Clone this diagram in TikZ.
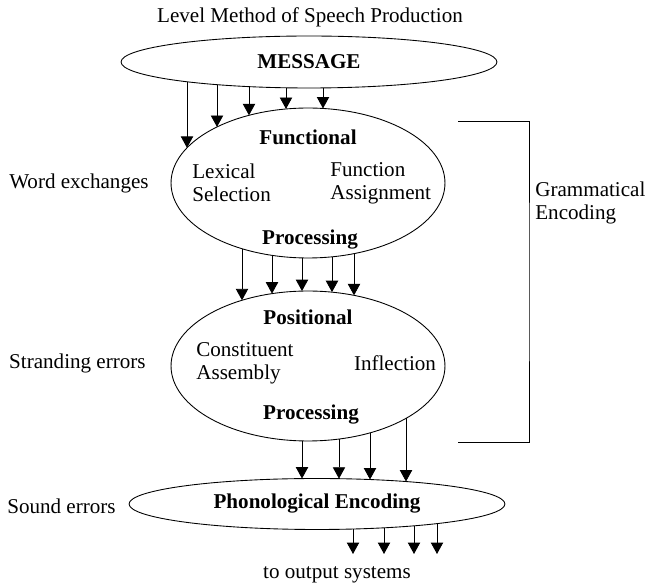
\documentclass[tikz,border=0pt]{standalone}
\usepackage{fontspec}
\setmainfont{Liberation Serif}
\usepackage{tikz}
\usetikzlibrary{positioning, calc, arrows.meta, shapes}
\tikzset{level/.style={ellipse, draw, line width=0.5pt, inner sep=0pt}}
\tikzset{flow/.style={-{Triangle[width=7pt,length=6.5pt]}, line width=0.5pt}}
\tikzset{every node/.append style={font=\fontsize{12}{13}\selectfont, inner sep=0pt}}

\begin{document}
\begin{tikzpicture}[x=0.02cm, y=-0.02cm]

      \useasboundingbox (0,0) rectangle (647,587);

      % LEVELS

      \node[level, minimum width=7.52cm, minimum height=1.04cm] (msg) at (309,62) {\textbf{MESSAGE}};
      \node[level, minimum width=5.48cm, minimum height=3cm] (fun) at (308,183) {};
      \node[level, minimum width=5.48cm, minimum height=3cm] (pos) at (308,366) {};
      \node[level, minimum width=7.52cm, minimum height=1.02cm] (pho) at (317,504) {\textbf{Phonological Encoding}};

      % INNER LABELS

      \node (funTop) at (308,137) {\textbf{Functional}};
      \node[anchor=west, align=left] (lexLabel) at (192,183) {Lexical\\Selection};
      \node[anchor=west, align=left] (asgLabel) at (330,183) {Function\\Assignment};
      \node (funBot) at (310,240) {\textbf{Processing}};

      \node (posTop) at (308,317) {\textbf{Positional}};
      \node[anchor=west, align=left] (conLabel) at (196,363) {Constituent\\Assembly};
      \node (infLabel) at (395,363) {Inflection};
      \node (posBot) at (311,415) {\textbf{Processing}};

      % SIDE LABELS

      \node (title) at (310,17) {Level Method of Speech Production};
      \node[anchor=east] (wordLabel) at (149,183) {Word exchanges};
      \node[anchor=east] (strLabel) at (146,363) {Stranding errors};
      \node[anchor=east] (sndLabel) at (116,506) {Sound errors};
      \node[anchor=west, align=left] (gramLabel) at (535,203) {Grammatical\\Encoding};
      \node (out) at (337,575) {to output systems};

      % BRACKET

      \coordinate (bTop) at (458,121);
      \coordinate (bBot) at (458,442);
      \draw[line width=0.5pt] (bTop) -| (529,282) |- (bBot);

      % ARCS

      \foreach \x in {187,217,249,286,323}
        \draw[flow] ($(msg.center)+(\x-309,{26*sqrt(1-((\x-309)/188)^2)})$) -- ($(fun.center)+(\x-308,{-75*sqrt(1-((\x-308)/137)^2)})$);
      \foreach \x in {242,272,302,332,354}
        \draw[flow] ($(fun.center)+(\x-308,{75*sqrt(1-((\x-308)/137)^2)})$) -- ($(pos.center)+(\x-308,{-75*sqrt(1-((\x-308)/137)^2)})$);
      \foreach \x in {302,339,370,406}
        \draw[flow] ($(pos.center)+(\x-308,{75*sqrt(1-((\x-308)/137)^2)})$) -- ($(pho.center)+(\x-317,{-25.5*sqrt(1-((\x-317)/188)^2)})$);
      \coordinate (outTop) at (337,554);
      \foreach \x in {353,384,414,437}
        \draw[flow] ($(pho.center)+(\x-317,{25.5*sqrt(1-((\x-317)/188)^2)})$) coordinate (s) -- (s |- outTop);

    \end{tikzpicture}
\end{document}
